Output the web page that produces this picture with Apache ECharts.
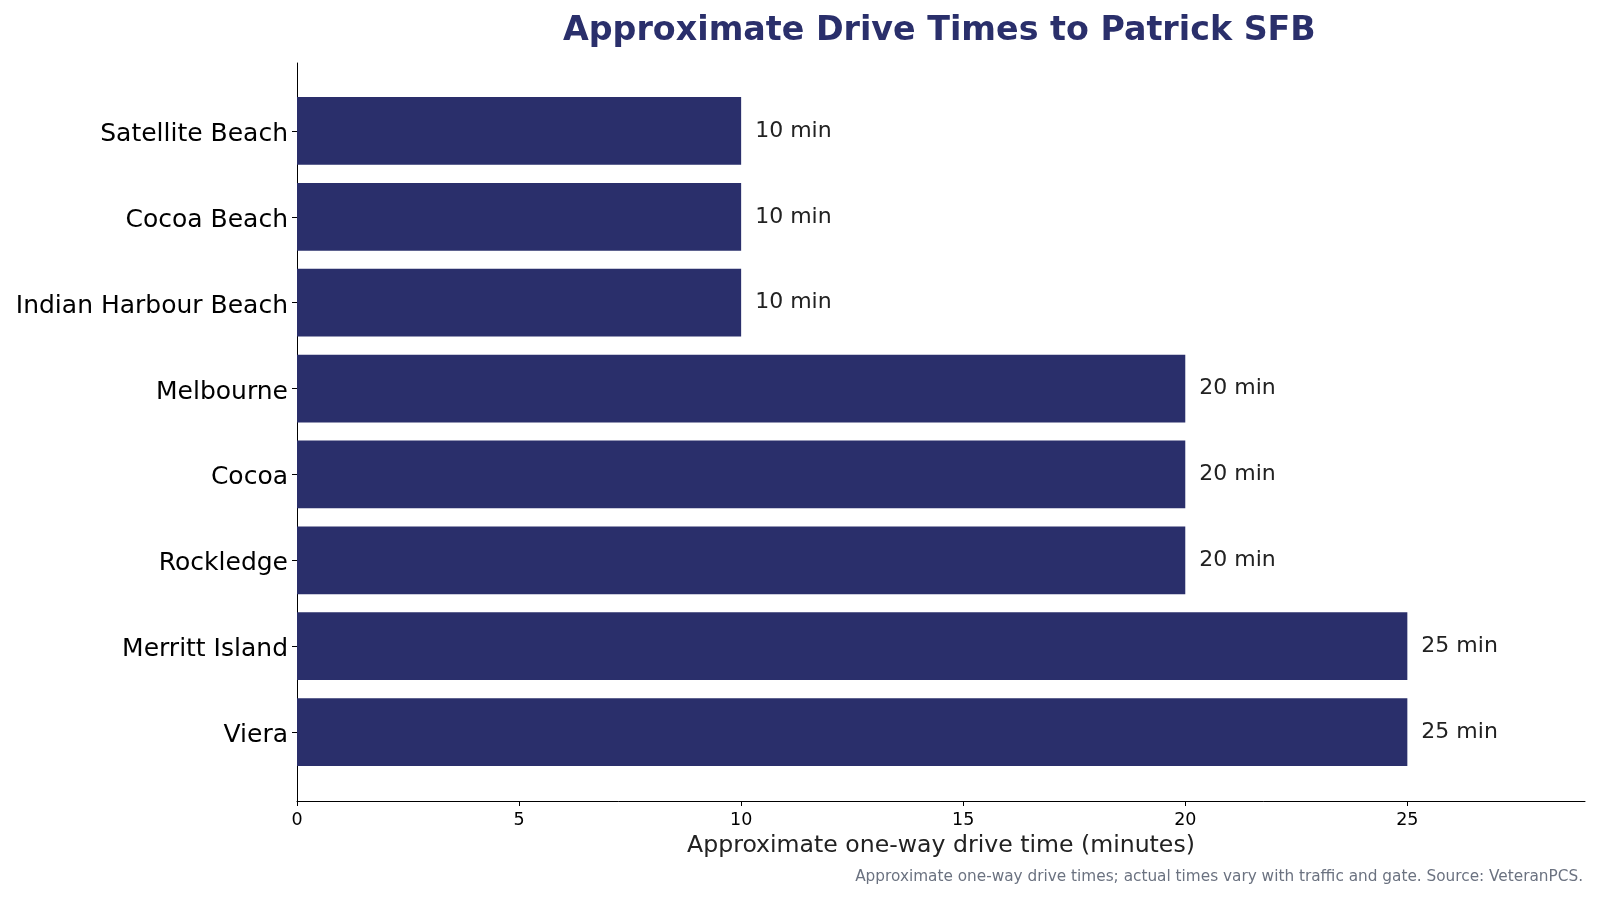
<!DOCTYPE html>
<html>
<head>
<meta charset="utf-8">
<script src="https://cdn.jsdelivr.net/npm/echarts@6/dist/echarts.min.js"></script>
<style>
  html, body { margin: 0; padding: 0; background: #fff; }
  #chart { width: 1600px; height: 900px; }
</style>
</head>
<body>
<div id="chart"></div>
<script>
const towns   = ['Satellite Beach', 'Cocoa Beach', 'Indian Harbour Beach', 'Melbourne',
                 'Cocoa', 'Rockledge', 'Merritt Island', 'Viera']
const minutes = [10, 10, 10, 20, 20, 20, 25, 25]
const xTicks  = { min: 0, max: 29, interval: 5 }

const navy = '#2a2f6b'
const font = 'DejaVu Sans, sans-serif'

const chart = echarts.init(document.getElementById('chart'), null, { renderer: 'canvas' })

chart.setOption({
  backgroundColor: '#ffffff',
  animation: false,
  title: [
    {
      text: 'Approximate Drive Times to Patrick SFB',
      left: 563, top: 15, padding: 0,
      textStyle: { color: navy, fontSize: 33.3, fontWeight: 'bold', fontFamily: font }
    },
    {
      text: 'Approximate one-way drive times; actual times vary with traffic and gate. Source: VeteranPCS.',
      right: 17, bottom: 15, padding: 0,
      textStyle: { color: '#6b7280', fontSize: 15.3, fontWeight: 'normal', fontFamily: font }
    }
  ],
  grid: [
    // bars live here (band = one matplotlib unit)
    { left: 297, right: 15, top: 88, bottom: 125 },
    // frame / spines (includes the 5% margins)
    { left: 297, right: 15, top: 63, bottom: 99 }
  ],
  xAxis: [
    { gridIndex: 0, type: 'value', min: xTicks.min, max: xTicks.max, show: false },
    {
      gridIndex: 1, type: 'value',
      min: xTicks.min, max: xTicks.max, interval: xTicks.interval,
      name: 'Approximate one-way drive time (minutes)',
      nameLocation: 'middle', nameGap: 33,
      nameTextStyle: { color: '#222', fontSize: 23.6, fontFamily: font },
      axisLine:  { show: true, lineStyle: { color: '#000', width: 1 } },
      axisTick:  { show: true, length: 5, lineStyle: { color: '#000' } },
      axisLabel: { color: '#000', fontSize: 17.5, fontFamily: font, margin: 10,
                   showMaxLabel: false },
      splitLine: { show: false }
    }
  ],
  yAxis: [
    {
      gridIndex: 0, type: 'category', data: towns, inverse: true,
      axisLine:  { show: false },
      axisTick:  { show: true, length: 5, alignWithLabel: true, lineStyle: { color: '#000' } },
      // nudge labels a few px down to sit like matplotlib's
      axisLabel: { color: '#000', fontSize: 25, fontFamily: font, margin: 9,
                   verticalAlign: 'top', lineHeight: 7 }
    },
    {
      gridIndex: 1, type: 'value', min: 0, max: 1,
      axisLine:  { show: true, lineStyle: { color: '#000', width: 1 } },
      axisTick:  { show: false },
      axisLabel: { show: false },
      splitLine: { show: false }
    }
  ],
  series: [{
    type: 'bar',
    xAxisIndex: 0,
    yAxisIndex: 0,
    data: minutes,
    barCategoryGap: '21%',
    itemStyle: { color: navy },
    label: {
      show: true,
      position: 'right',
      distance: 14,
      formatter: '{c} min',
      color: '#222',
      fontSize: 22,
      fontFamily: font
    }
  }]
})
</script>
</body>
</html>
